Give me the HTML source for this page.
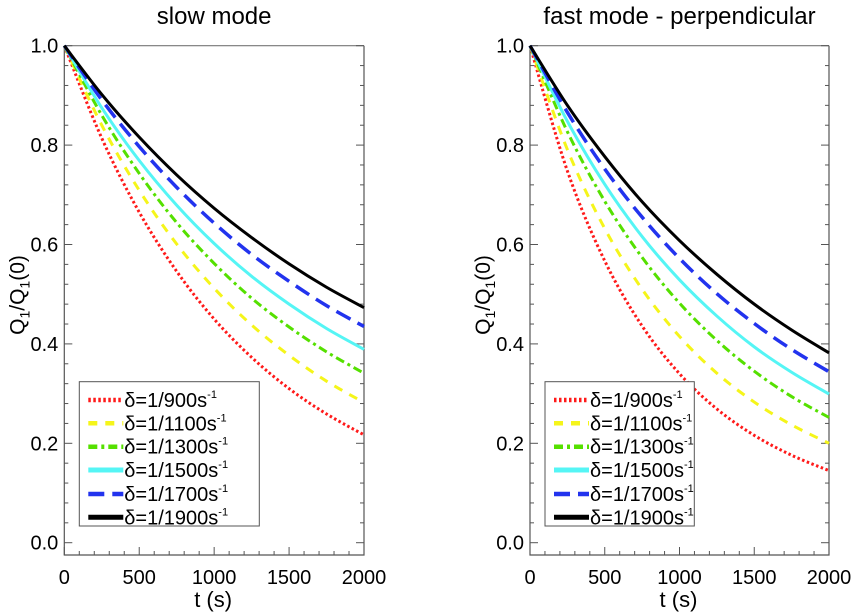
<!DOCTYPE html>
<html><head><meta charset="utf-8"><style>
html,body{margin:0;padding:0;background:#fff;}
svg{display:block;font-family:"Liberation Sans",sans-serif;}
</style></head><body>
<svg id="chart" width="851" height="613" viewBox="0 0 851 613"></svg>
<script>
const times = [0, 250, 500, 750, 1000, 1250, 1500, 1750, 2000];
const labels = ["900", "1100", "1300", "1500", "1700", "1900"];
const slowRed    = [1, 0.814, 0.665, 0.546, 0.450, 0.373, 0.310, 0.259, 0.217];
const slowYellow = [1, 0.840, 0.709, 0.601, 0.512, 0.438, 0.377, 0.325, 0.282];
const slowGreen  = [1, 0.860, 0.743, 0.644, 0.562, 0.492, 0.434, 0.384, 0.341];
const slowCyan   = [1, 0.875, 0.769, 0.679, 0.602, 0.536, 0.480, 0.431, 0.389];
const slowBlue   = [1, 0.891, 0.797, 0.715, 0.643, 0.580, 0.526, 0.477, 0.435];
const slowBlack  = [1, 0.902, 0.816, 0.740, 0.673, 0.614, 0.561, 0.514, 0.473];
const fastRed    = [1, 0.748, 0.567, 0.436, 0.340, 0.269, 0.216, 0.176, 0.145];
const fastYellow = [1, 0.791, 0.632, 0.510, 0.415, 0.341, 0.283, 0.237, 0.200];
const fastGreen  = [1, 0.827, 0.687, 0.574, 0.482, 0.407, 0.345, 0.294, 0.252];
const fastCyan   = [1, 0.848, 0.721, 0.616, 0.529, 0.456, 0.394, 0.343, 0.299];
const fastBlue   = [1, 0.866, 0.752, 0.655, 0.572, 0.501, 0.441, 0.389, 0.344];
const fastBlack  = [1, 0.880, 0.777, 0.686, 0.608, 0.540, 0.480, 0.428, 0.382];
const xTicks = [0, 500, 1000, 1500, 2000];
const yTicks = [0.0, 0.2, 0.4, 0.6, 0.8, 1.0];

const NS = "http://www.w3.org/2000/svg";
const svg = document.getElementById("chart");
function mk(tag, attrs, parent) {
  const e = document.createElementNS(NS, tag);
  for (const k in attrs) e.setAttribute(k, attrs[k]);
  (parent || svg).appendChild(e);
  return e;
}
const styles = [
  {c:"#ff1a1a", d:"2.5 2.5", w:3},
  {c:"#f5f51a", d:"9 8", w:3},
  {c:"#55e000", d:"9 4 3 4", w:3},
  {c:"#55f5f5", d:"", w:3},
  {c:"#2233ee", d:"16 8", w:3.5},
  {c:"#000000", d:"", w:3}
];
function panel(x0, x1, title, series, legW, key) {
  const y0v = 542.7, y1v = 45.7;
  const X = t => x0 + (t / 2000) * (x1 - x0);
  const Y = v => y0v - v * (y0v - y1v);
  const g = mk("g", {});
  
  
  const ybot = 555;
  const ax = mk("path", {d:`M${x0},${Y(1)} L${x0},${ybot} L${x1},${ybot} L${x1},${Y(1)}`, fill:"none", stroke:"#555", "stroke-width":1.2}, g);
  
  
  const ref = mk("line", {x1:x0, x2:x1, y1:Y(1), y2:Y(1), stroke:"#777", "stroke-width":1.2}, g);
  
  
  for (let t = 0; t <= 2000; t += 100) {
    const L = t % 500 === 0 ? 8 : 4;
    mk("line", {x1:X(t), x2:X(t), y1:ybot, y2:ybot - L, stroke:"#555", "stroke-width":1}, g);
  }
  for (let i = 0; i <= 25; i++) {
    const v = i * 0.04; const L = i % 5 === 0 ? 8 : 4;
    mk("line", {x1:x0, x2:x0 + L, y1:Y(v), y2:Y(v), stroke:"#555", "stroke-width":1}, g);
    mk("line", {x1:x1, x2:x1 - L, y1:Y(v), y2:Y(v), stroke:"#555", "stroke-width":1}, g);
  }
  xTicks.forEach(t => {
    const tx = mk("text", {x:X(t), y:584, "font-size":20, "text-anchor":"middle"}, g);
    tx.textContent = t;
    
    
  });
  yTicks.forEach(v => {
    const tx = mk("text", {x:x0 - 6, y:Y(v) + 7, "font-size":20, "text-anchor":"end"}, g);
    tx.textContent = v.toFixed(1);
    
    
  });
  const tt = mk("text", {x:(x0 + x1) / 2, y:24, "font-size":24, "text-anchor":"middle"}, g);
  tt.textContent = title;
  
  
  const xl = mk("text", {x:(x0 + x1) / 2 - 1, y:607, "font-size":22, "text-anchor":"middle"}, g);
  xl.textContent = "t (s)";
  
  
  const yl = mk("text", {x:0, y:0, "font-size":21, "text-anchor":"middle", transform:`translate(${x0 - 40},295) rotate(-90)`}, g);
  yl.innerHTML = 'Q<tspan font-size="14" dy="5">1</tspan><tspan dy="-5">/Q</tspan><tspan font-size="14" dy="5">1</tspan><tspan dy="-5">(0)</tspan>';
  
  
  series.forEach((vals, si) => {
    const pts = times.map((t, i) => [X(t), Y(vals[i])]);
    let d = `M${pts[0][0]},${pts[0][1]}`;
    for (let i = 0; i < pts.length - 1; i++) {
      const p0 = pts[Math.max(i - 1, 0)], p1 = pts[i], p2 = pts[i + 1], p3 = pts[Math.min(i + 2, pts.length - 1)];
      const c1 = [p1[0] + (p2[0] - p0[0]) / 6, p1[1] + (p2[1] - p0[1]) / 6];
      const c2 = [p2[0] - (p3[0] - p1[0]) / 6, p2[1] - (p3[1] - p1[1]) / 6];
      d += ` C${c1[0]},${c1[1]} ${c2[0]},${c2[1]} ${p2[0]},${p2[1]}`;
    }
    const s = styles[si];
    const p = mk("path", {d:d, fill:"none", stroke:s.c, "stroke-width":s.w, "stroke-dasharray":s.d}, g);
    
    
  });
  const lg = mk("g", {}, g);
  
  
  const lx = x0 + 15;
  mk("rect", {x:lx, y:381.7, width:legW, height:144.3, fill:"#fff", stroke:"#555", "stroke-width":1}, lg);
  const rows = [400, 423.3, 446.7, 470, 494, 517.3];
  labels.forEach((lab, i) => {
    const s = styles[i];
    const ls = mk("line", {x1:lx + 9, x2:lx + 44, y1:rows[i], y2:rows[i], stroke:s.c, "stroke-width":i === 3 || i === 5 ? 5 : 4.5, "stroke-dasharray":s.d}, lg);
    
    
    const tx = mk("text", {x:lx + 45, y:rows[i] + 7, "font-size":20}, lg);
    tx.innerHTML = 'δ=1/' + lab + 's<tspan font-size="11" dy="-9">-1</tspan>';
    
    
  });
}
panel(64.3, 364, "slow mode", [slowRed, slowYellow, slowGreen, slowCyan, slowBlue, slowBlack], 180, "slow");
panel(530, 829, "fast mode - perpendicular", [fastRed, fastYellow, fastGreen, fastCyan, fastBlue, fastBlack], 149.3, "fast");
</script>
</body></html>
